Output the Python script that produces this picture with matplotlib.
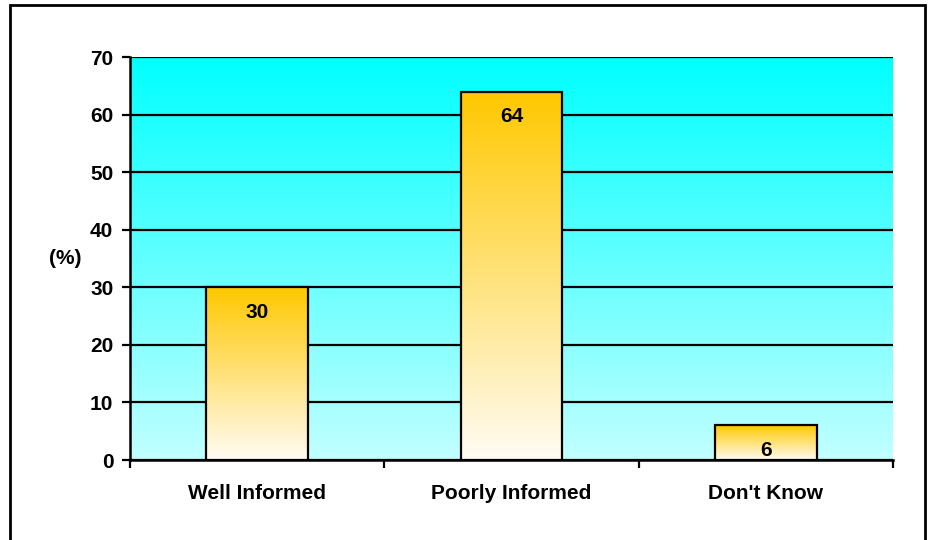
import numpy as np
import matplotlib
matplotlib.use("Agg")
import matplotlib.pyplot as plt
from matplotlib.colors import LinearSegmentedColormap
from matplotlib.patches import Rectangle

categories = ["Well Informed", "Poorly Informed", "Don't Know"]
values = [30, 64, 6]
y_ticks = [0, 10, 20, 30, 40, 50, 60, 70]

plt.rcParams["font.family"] = ["Liberation Sans", "DejaVu Sans"]
plt.rcParams["font.weight"] = "bold"

fig = plt.figure(figsize=(9.3, 5.4), dpi=100)
ax = fig.add_axes([0.1398, 0.1481, 0.8204, 0.7463])

# border around the whole chart
fig.patches.append(Rectangle((10 / 930, -0.05), 915 / 930, 1.05 - 5 / 540,
                             transform=fig.transFigure, fill=False,
                             edgecolor="black", lw=2, zorder=0))

xlim = (-0.5, len(categories) - 0.5)
ylim = (0, 70)
ax.set_xlim(*xlim)
ax.set_ylim(*ylim)

# plot area gradient, pale at the bottom, cyan at the top
bg_cmap = LinearSegmentedColormap.from_list("bg", ["#c2ffff", "#00ffff"])
grad = np.linspace(0, 1, 256).reshape(-1, 1)
ax.imshow(grad, cmap=bg_cmap, origin="lower", aspect="auto",
          extent=(xlim[0], xlim[1], ylim[0], ylim[1]), zorder=0)

ax.set_yticks(y_ticks)
ax.yaxis.grid(True, color="black", lw=1.6, zorder=1)
ax.set_axisbelow(True)

# bars filled with a gold-to-white gradient
bar_cmap = LinearSegmentedColormap.from_list("bar", ["#fffcf5", "#ffe27a", "#ffc800"])
bars = ax.bar(range(len(categories)), values, width=0.4, color="none",
              edgecolor="black", lw=1.6, zorder=3)
for bar, v in zip(bars, values):
    x0 = bar.get_x()
    w = bar.get_width()
    im = ax.imshow(grad, cmap=bar_cmap, origin="lower", aspect="auto",
                   extent=(x0, x0 + w, 0, v), zorder=2)
    im.set_clip_path(bar)
    ax.annotate(str(v), (x0 + w / 2, v), xytext=(0, -18), textcoords="offset points",
                ha="center", va="center", fontsize=15, fontweight="bold", zorder=4)

ax.set_xlim(*xlim)
ax.set_ylim(*ylim)

# category separators as major ticks, names as minor ticks
ax.set_xticks([-0.5, 0.5, 1.5, 2.5])
ax.set_xticklabels([])
ax.set_xticks(range(len(categories)), minor=True)
ax.set_xticklabels(categories, minor=True, fontsize=15, fontweight="bold")
ax.tick_params(axis="x", which="major", direction="out", length=6, width=1.6)
ax.tick_params(axis="x", which="minor", length=0, pad=17)
ax.tick_params(axis="y", direction="out", length=6, width=1.6, labelsize=15, pad=6)

for side in ("top", "right"):
    ax.spines[side].set_visible(False)
for side in ("left", "bottom"):
    ax.spines[side].set_linewidth(1.8)

ax.text(-0.085, 35, "(%)", transform=ax.get_yaxis_transform(), ha="center",
        va="center", fontsize=15, fontweight="bold")

fig.savefig("out.png", dpi=100)
